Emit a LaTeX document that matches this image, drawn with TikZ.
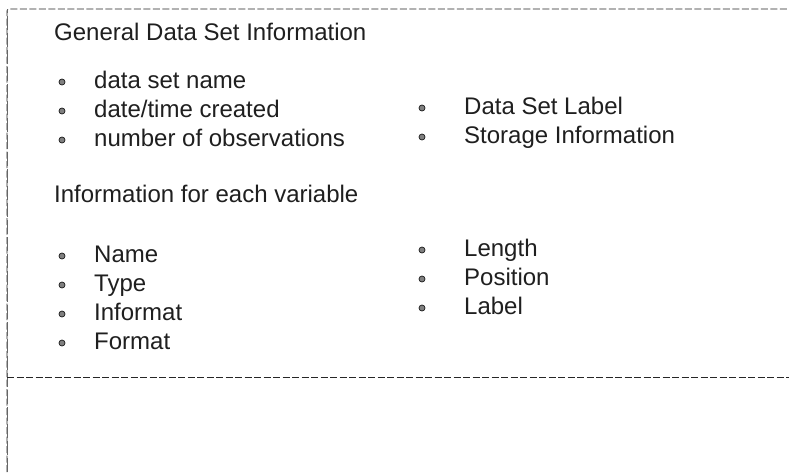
\documentclass[tikz,border=0pt]{standalone}
\usepackage{fontspec}
\setmainfont{Liberation Sans}
\begin{document}
\begin{tikzpicture}[x=1pt,y=-1pt,
  txt/.style={anchor=base west, inner sep=0pt, font=\fontsize{24}{28}\selectfont, text=black!88},
  bul/.style={circle, inner sep=0pt, minimum size=6pt, fill=black!50, draw=black!90, line width=0.7pt},
  rulerline/.style={draw=black!85, line width=0.8pt, dash pattern=on 7pt off 2.5pt},
  sideline/.style={draw=black!60, line width=0.6pt, dash pattern=on 14pt off 3pt}]
  \useasboundingbox[fill=white] (0,0) rectangle (789,472);

  % frame: top and left edges, plus the divider of the lower panel
  \coordinate (tl) at (7,9);
  \coordinate (tr) at (789,9);
  \coordinate (bl) at (7,472);
  \coordinate (ml) at (7,377);
  \coordinate (mr) at (789,377);
  \draw[rulerline, rounded corners=2pt] (bl) -- (tl) -- (tr);
  \draw[sideline] (bl) -- (tl);
  \draw[rulerline] (ml) -- (mr);

  % general information
  \node[txt] (gen) at (54,40) {General Data Set Information};

  \node[txt] (dsn) at (94,88)  {data set name};
  \node[txt] (dtc) at (94,117) {date/time created};
  \node[txt] (obs) at (94,146) {number of observations};
  \node[bul] (b1) at (62,82)  {};
  \node[bul] (b2) at (62,111) {};
  \node[bul] (b3) at (62,140) {};

  \node[txt] (dsl) at (464,114) {Data Set Label};
  \node[txt] (sti) at (464,143) {Storage Information};
  \node[bul] (b4) at (422,108) {};
  \node[bul] (b5) at (422,137) {};

  % per-variable information
  \node[txt] (var) at (54,202) {Information for each variable};

  \node[txt] (nam) at (94,262) {Name};
  \node[txt] (typ) at (94,291) {Type};
  \node[txt] (inf) at (94,320) {Informat};
  \node[txt] (fmt) at (94,349) {Format};
  \node[bul] (b6) at (62,256) {};
  \node[bul] (b7) at (62,285) {};
  \node[bul] (b8) at (62,314) {};
  \node[bul] (b9) at (62,343) {};

  \node[txt] (len) at (464,256) {Length};
  \node[txt] (pos) at (464,285) {Position};
  \node[txt] (lab) at (464,314) {Label};
  \node[bul] (b10) at (422,250) {};
  \node[bul] (b11) at (422,279) {};
  \node[bul] (b12) at (422,308) {};
\end{tikzpicture}
\end{document}
